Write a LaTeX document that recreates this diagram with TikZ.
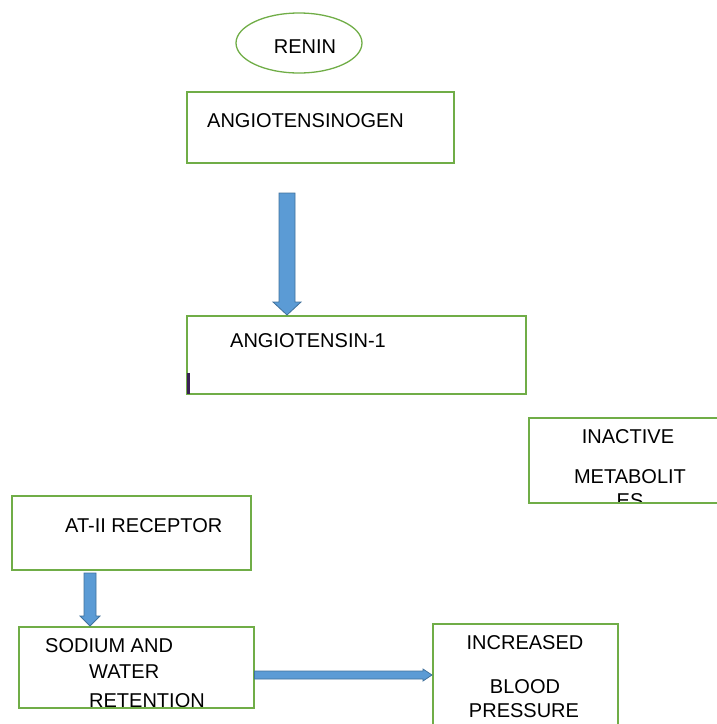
\documentclass[tikz,border=0pt]{standalone}
\usepackage{fontspec}
\setmainfont{Liberation Sans}
\usetikzlibrary{shapes.geometric,calc}
\definecolor{bgreen}{HTML}{70AD47}
\definecolor{ablue}{HTML}{5B9BD5}
\definecolor{ablueline}{HTML}{41719C}
\definecolor{cursor}{HTML}{3A1F55}
\begin{document}
\begin{tikzpicture}[x=1pt,y=-1pt,
  box/.style={draw=bgreen, line width=1.5pt, inner sep=0pt, anchor=north west},
  txt/.style={font=\fontsize{20}{22}\selectfont, inner sep=0pt, text=black},
  fat/.style={fill=ablue, draw=ablueline, line width=0.8pt, line join=miter}]
\useasboundingbox (0,0) rectangle (717,724);
\clip (0,0) rectangle (717,724);

% texts
\node[txt, anchor=base] (trenin) at (305,53) {RENIN};
\node[txt, anchor=base west] (tagen) at (207,127) {ANGIOTENSINOGEN};
\node[txt, anchor=base west] (tang1) at (230,347) {ANGIOTENSIN-1};
\node[txt, anchor=base] (tinact) at (628,443) {INACTIVE};
\node[txt, anchor=base] (tmeta) at (630,483) {METABOLIT};
\begin{scope}
  \clip (500,400) rectangle (730,502);
  \node[txt, anchor=base] (tes) at (630,507) {ES};
\end{scope}
\node[txt, anchor=base west] (tat2) at (65,532) {AT-II RECEPTOR};
\node[txt, anchor=base west] (tsod) at (45,652) {SODIUM AND};
\node[txt, anchor=base west] (twat) at (89,678) {WATER};
\node[txt, anchor=base west] (tret) at (89,707) {RETENTION};
\node[txt, anchor=base] (tinc) at (525,649) {INCREASED};
\node[txt, anchor=base] (tblood) at (525,693) {BLOOD};
\node[txt, anchor=base] (tpress) at (524,717) {PRESSURE};

% boxes
\node[draw=bgreen, line width=1.3pt, ellipse, inner sep=0pt,
      minimum width=126pt, minimum height=60pt] (renin) at (299,43) {};
\node[box, minimum width=267pt, minimum height=71pt] (agen) at (186,91) {};
\node[box, minimum width=339pt, minimum height=78pt] (ang1) at (186,315) {};
\node[box, minimum width=200pt, minimum height=85pt] (inact) at (528,417) {};
\node[box, minimum width=239pt, minimum height=74pt] (at2) at (11,495) {};
\node[box, minimum width=235pt, minimum height=81pt] (sod) at (18,626) {};
\node[box, minimum width=185pt, minimum height=120pt] (incbp) at (432,623) {};

% cursor mark
\draw[cursor, line width=3pt] (ang1.south west) ++(2,-1) -- ++(0,-21);

% arrows
\coordinate (a1s) at (287,193);
\coordinate (a1e) at (ang1.north -| a1s);
\draw[fat] (a1s) ++(-8,0) -- ++(16,0) -- ($(a1e)+(8,-13)$) -- ($(a1e)+(14,-13)$)
  -- (a1e) -- ($(a1e)+(-14,-13)$) -- ($(a1e)+(-8,-13)$) -- cycle;

\coordinate (a2s) at (90,573);
\coordinate (a2e) at (sod.north -| a2s);
\draw[fat] (a2s) ++(-6,0) -- ++(12,0) -- ($(a2e)+(6,-10)$) -- ($(a2e)+(10,-10)$)
  -- (a2e) -- ($(a2e)+(-10,-10)$) -- ($(a2e)+(-6,-10)$) -- cycle;

\coordinate (a3s) at (sod.east |- 0,675);
\coordinate (a3e) at (incbp.west |- 0,675);
\draw[fat] (a3s) ++(0,-4) -- ($(a3e)+(-9,-4)$) -- ($(a3e)+(-9,-6)$) -- (a3e)
  -- ($(a3e)+(-9,6)$) -- ($(a3e)+(-9,4)$) -- ($(a3s)+(0,4)$) -- cycle;
\end{tikzpicture}
\end{document}
